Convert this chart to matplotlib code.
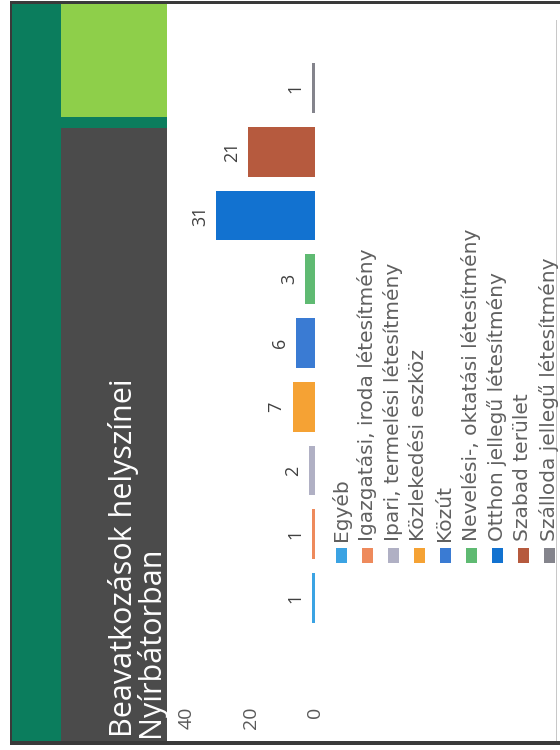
import matplotlib
matplotlib.use("Agg")
import matplotlib.pyplot as plt
from matplotlib.patches import Rectangle

# chart data (slide is scanned rotated 90 degrees, so everything is drawn sideways)
categories = [
    "Egyéb",
    "Igazgatási, iroda létesítmény",
    "Ipari, termelési létesítmény",
    "Közlekedési eszköz",
    "Közút",
    "Nevelési-, oktatási létesítmény",
    "Otthon jellegű létesítmény",
    "Szabad terület",
    "Szálloda jellegű létesítmény",
]
values = [1, 1, 2, 7, 6, 3, 31, 21, 1]
colors = ["#3ba3e3", "#ee8a5c", "#b0b0c4", "#f5a234", "#3a7bd3",
          "#5fba72", "#1272d0", "#b65a3e", "#84848c"]
value_ticks = [0, 20, 40]
title = "Beavatkozások helyszínei\nNyírbátorban"

W, H = 560, 750
plt.rcParams['font.family'] = ['Open Sans', 'DejaVu Sans']

fig = plt.figure(figsize=(W / 100, H / 100), dpi=100)
fig.patch.set_facecolor("white")


def add_box(x, y, w, h, color, z=0):
    # x, y = top-left corner in image pixels
    r = Rectangle((x / W, 1 - (y + h) / H), w / W, h / H,
                  transform=fig.transFigure, facecolor=color,
                  edgecolor="none", zorder=z)
    fig.add_artist(r)


# slide decoration
add_box(12, 4, 49, 737, "#0b7d5d")
add_box(61, 4, 106, 113, "#8ecf4a")
add_box(61, 117, 106, 11, "#0b7d5d")
add_box(61, 128, 106, 613, "#4b4b4b")
add_box(10, 1, 550, 3, "#3a3a3a")
add_box(10, 741, 550, 4, "#3a3a3a")
add_box(10, 1, 2, 744, "#3a3a3a")
add_box(556, 20, 1, 721, "#c8c8c8")

fig.text(137 / W, 1 - 737 / H, title, rotation=90, ha="center", va="bottom",
         color="white", fontsize=22, linespacing=0.85, multialignment="left")

# bar chart
ax = fig.add_axes([170 / W, 120 / H, 145 / W, 574 / H])
ax.set_facecolor("none")
ax.barh(range(len(values)), values, height=0.78, color=colors)
ax.set_xlim(45.3, 0)
ax.set_ylim(-0.5, len(values) - 0.5)
for s in ax.spines.values():
    s.set_visible(False)
ax.set_yticks([])
ax.set_xticks(value_ticks)
ax.tick_params(axis="x", length=0, pad=55, labelrotation=90,
               labelcolor="#595959", labelsize=14)

for i, v in enumerate(values):
    ax.annotate(str(v), (v, i), xytext=(-11.5, 0), textcoords="offset points",
                rotation=90, ha="center", va="center", fontsize=13,
                color="#404040")

# legend, one column per entry
for k, (name, c) in enumerate(zip(categories, colors)):
    cx = 341 + k * 26
    add_box(cx - 5.5, 548, 11, 15, c, z=2)
    fig.text(cx / W, 1 - 541 / H, name, rotation=90, ha="center",
             va="bottom", fontsize=14.5, color="#606060",
             family=["DejaVu Sans"])

fig.savefig("out.png", dpi=100)
